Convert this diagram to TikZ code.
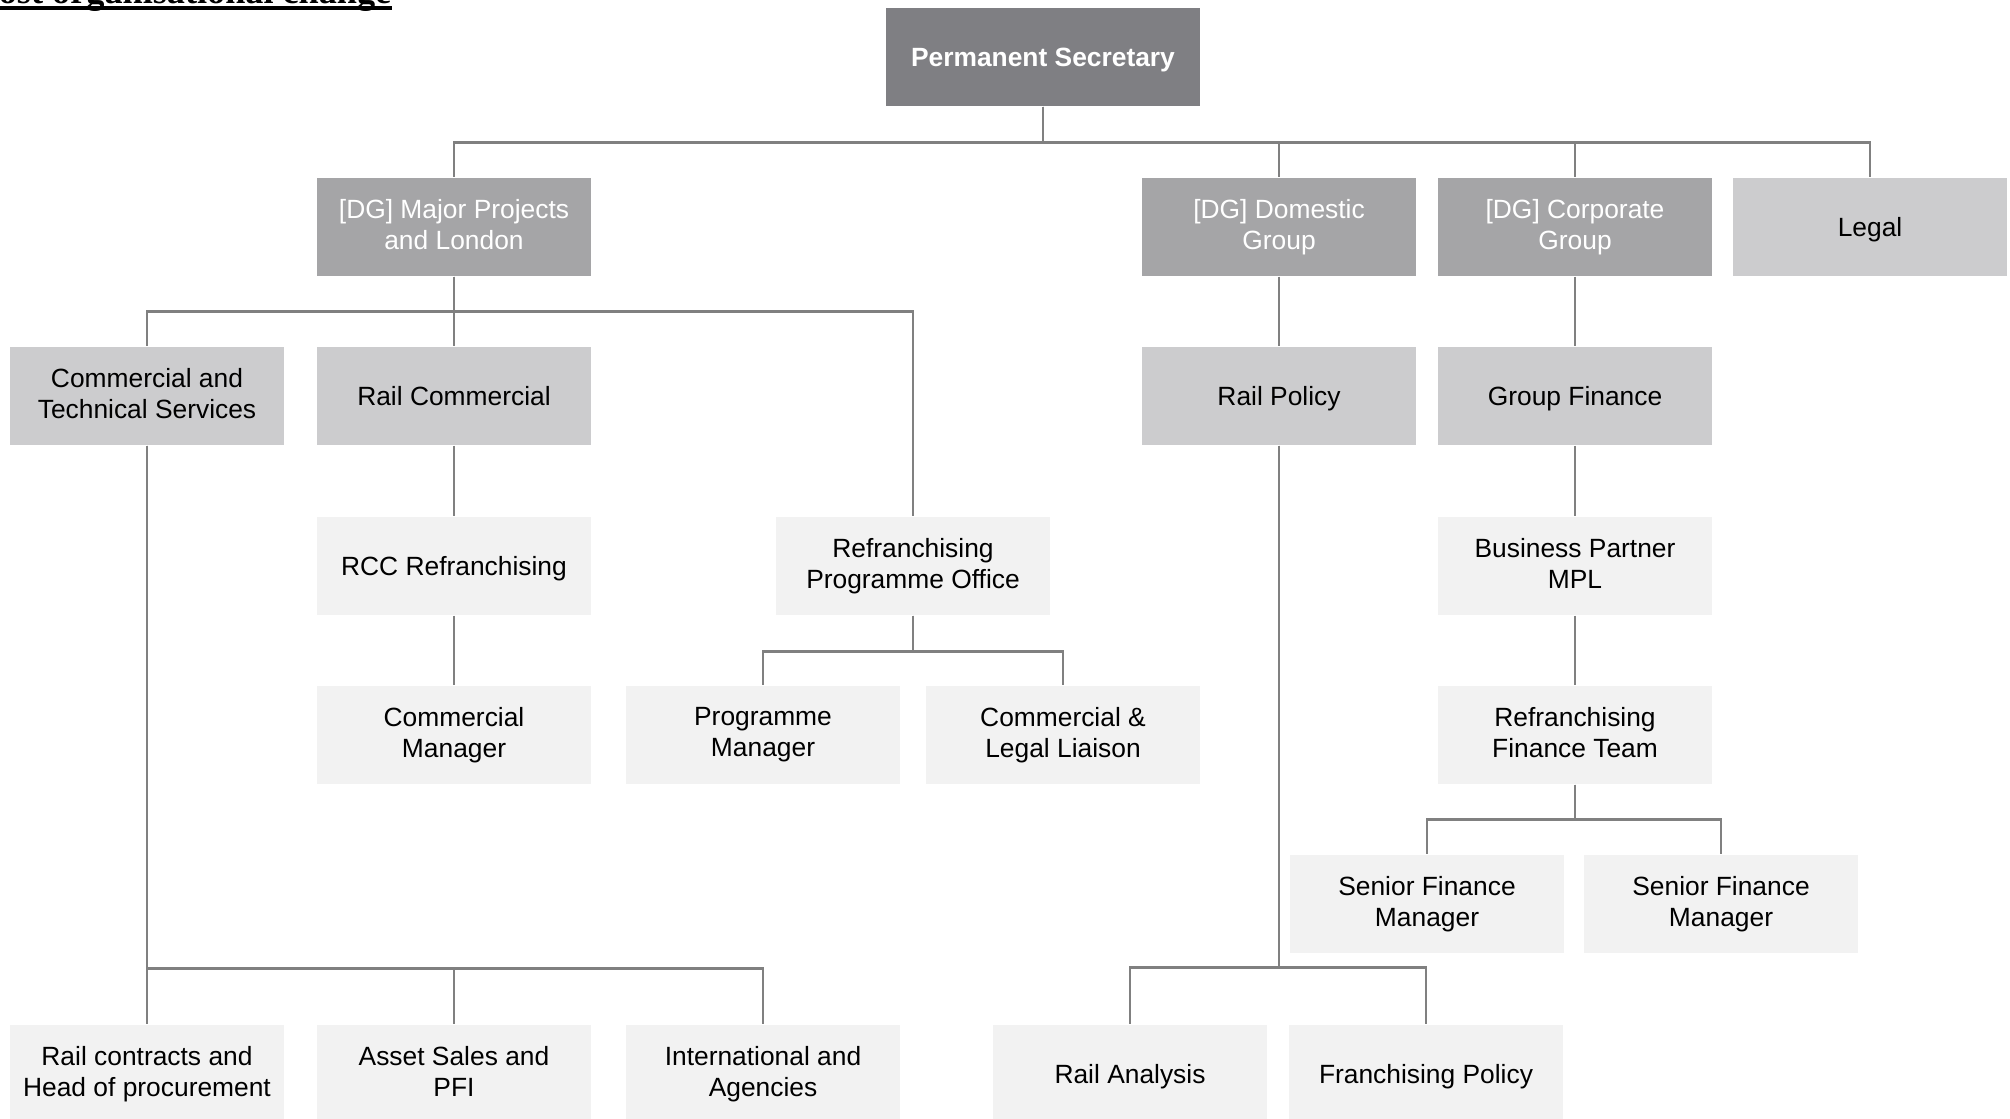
\documentclass[tikz,border=0pt]{standalone}
\usepackage{fontspec}
\setmainfont{Liberation Sans}
\newfontfamily\titulofont{Liberation Serif}
\usepackage{xcolor}
\definecolor{cinzaA}{RGB}{127,127,131}
\definecolor{cinzaB}{RGB}{165,165,167}
\definecolor{cinzaC}{RGB}{204,204,206}
\definecolor{cinzaD}{RGB}{242,242,242}
\definecolor{linha}{RGB}{128,128,128}
% apoio de linha (altura e profundidade fixas)
\newcommand\apoio{\rule[-0.212em]{0pt}{1.117em}}

\begin{document}
\begin{tikzpicture}[x=0.01cm, y=-0.01cm,
    caixa/.style={minimum width=2.73cm, minimum height=0.98cm, inner sep=0pt,
      align=center, font=\fontsize{7.5}{8.8}\selectfont,
      execute at begin node=\apoio, execute at end node=\apoio},
    topo/.style={caixa, fill=cinzaA, text=white, minimum width=3.14cm,
      font=\bfseries\fontsize{7.5}{8.8}\selectfont},
    dg/.style={caixa, fill=cinzaB, text=white},
    nivel/.style={caixa, fill=cinzaC},
    folha/.style={caixa, fill=cinzaD},
    liga/.style={draw=linha, line width=0.75pt}]
    \useasboundingbox (0,0) rectangle (2010,1119);
    % Titulo (cortado no topo)
    \node[anchor=base east, inner sep=0pt,
      font=\titulofont\bfseries\fontsize{10.3}{12}\selectfont] (titulo) at (392,4)
      {Post organisational change};
    \draw[line width=1.1pt] ([yshift=-1.1pt]titulo.base west) -- ([yshift=-1.1pt]titulo.base east);
    % Topo
    \node[topo] (ps) at (1043,57) {Permanent Secretary};
    % Diretores gerais
    \node[dg] (mpl) at (454,227) {[DG] Major Projects\\and London};
    \node[dg] (dom) at (1279,227) {[DG] Domestic\\Group};
    \node[dg] (corp) at (1575,227) {[DG] Corporate\\Group};
    \node[nivel] (legal) at (1870,227) {Legal};
    % Segundo nivel
    \node[nivel] (cts) at (147,396) {Commercial and\\Technical Services};
    \node[nivel] (railcom) at (454,396) {Rail Commercial};
    \node[nivel] (railpol) at (1279,396) {Rail Policy};
    \node[nivel] (gfin) at (1575,396) {Group Finance};
    % Terceiro nivel
    \node[folha] (rcc) at (454,566) {RCC Refranchising};
    \node[folha] (rpo) at (913,566) {Refranchising\\Programme Office};
    \node[folha] (bp) at (1575,566) {Business Partner\\MPL};
    % Quarto nivel
    \node[folha] (cman) at (454,735) {Commercial\\Manager};
    \node[folha] (pm) at (763,735) {Programme\\Manager};
    \node[folha] (cll) at (1063,735) {Commercial \&\\Legal Liaison};
    \node[folha] (rft) at (1575,735) {Refranchising\\Finance Team};
    % Quinto nivel
    \node[folha] (sfm1) at (1427,904) {Senior Finance\\Manager};
    \node[folha] (sfm2) at (1721,904) {Senior Finance\\Manager};
    % Base
    \node[folha] (rch) at (147,1074) {Rail contracts and\\Head of procurement};
    \node[folha] (asset) at (454,1074) {Asset Sales and\\PFI};
    \node[folha] (intl) at (763,1074) {International and\\Agencies};
    \node[folha] (ana) at (1130,1074) {Rail Analysis};
    \node[folha] (fpol) at (1426,1074) {Franchising Policy};
    % Barramentos
    \path (ps.south) ++(0,36) coordinate (b0);
    \path (mpl.south) ++(0,35) coordinate (b1);
    \path (rpo.south) ++(0,36) coordinate (b2);
    \path (cts.south) ++(0,523) coordinate (b3);
    \path (railpol.south) ++(0,522) coordinate (b4);
    \path (rft.south) ++(0,35) coordinate (b5);
    \foreach \f in {mpl,dom,corp,legal}
      \draw[liga] (ps.south) -- (b0) -| (\f.north);
    \foreach \f in {cts,railcom,rpo}
      \draw[liga] (mpl.south) -- (b1) -| (\f.north);
    \foreach \f in {pm,cll}
      \draw[liga] (rpo.south) -- (b2) -| (\f.north);
    \foreach \f in {rch,asset,intl}
      \draw[liga] (cts.south) -- (b3) -| (\f.north);
    \foreach \f in {ana,fpol}
      \draw[liga] (railpol.south) -- (b4) -| (\f.north);
    \foreach \f in {sfm1,sfm2}
      \draw[liga] (rft.south) -- (b5) -| (\f.north);
    % Linhas diretas
    \draw[liga] (railcom) -- (rcc);
    \draw[liga] (rcc) -- (cman);
    \draw[liga] (dom) -- (railpol);
    \draw[liga] (corp) -- (gfin);
    \draw[liga] (gfin) -- (bp);
    \draw[liga] (bp) -- (rft);
\end{tikzpicture}
\end{document}
